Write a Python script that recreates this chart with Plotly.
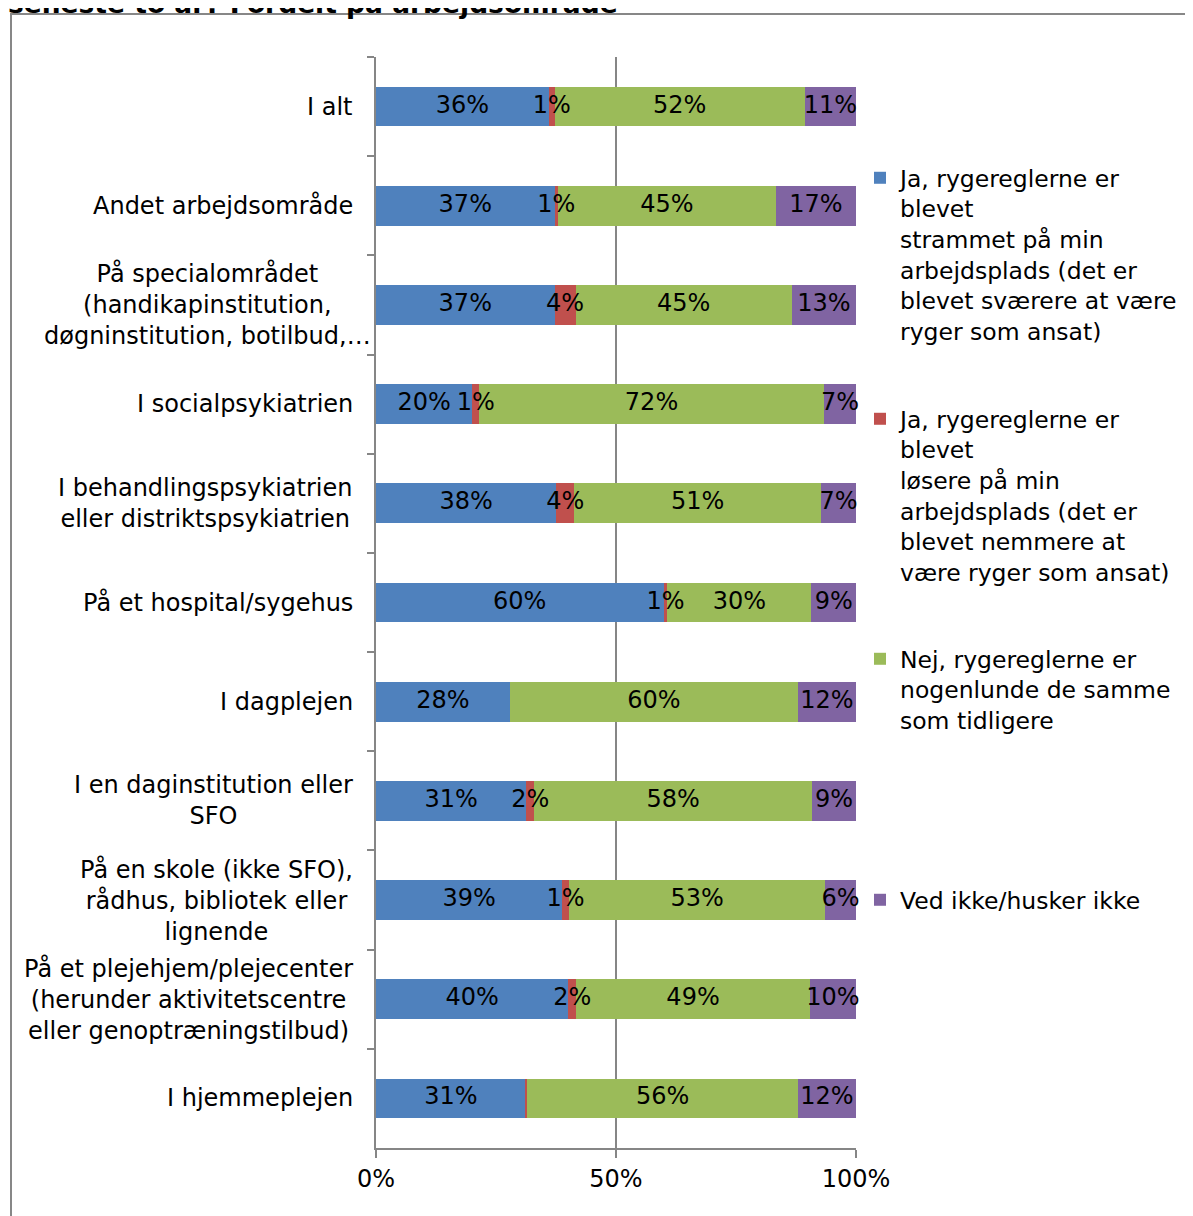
import plotly.graph_objects as go

# ---- data (top to bottom, values in %) ----
categories = [
    "I alt",
    "Andet arbejdsområde",
    "På specialområdet",
    "I socialpsykiatrien",
    "I behandlingspsykiatrien",
    "På et hospital/sygehus",
    "I dagplejen",
    "I en daginstitution",
    "På en skole",
    "På et plejehjem",
    "I hjemmeplejen",
]
category_labels = [
    "I alt",
    "Andet arbejdsområde",
    "På specialområdet<br>(handikapinstitution,<br>døgninstitution, botilbud,…",
    "I socialpsykiatrien",
    "I behandlingspsykiatrien<br>eller distriktspsykiatrien",
    "På et hospital/sygehus",
    "I dagplejen",
    "I en daginstitution eller<br>SFO",
    "På en skole (ikke SFO),<br>rådhus, bibliotek eller<br>lignende",
    "På et plejehjem/plejecenter<br>(herunder aktivitetscentre<br>eller genoptræningstilbud)",
    "I hjemmeplejen",
]
series_names = [
    "Ja, rygereglerne er<br>blevet<br>strammet på min<br>arbejdsplads (det er<br>blevet sværere at være<br>ryger som ansat)",
    "Ja, rygereglerne er<br>blevet<br>løsere på min<br>arbejdsplads (det er<br>blevet nemmere at<br>være ryger som ansat)",
    "Nej, rygereglerne er<br>nogenlunde de samme<br>som tidligere",
    "Ved ikke/husker ikke",
]
strammet = [36.0, 37.2, 37.2, 20.1, 37.6, 59.9, 27.9, 31.3, 38.8, 40.1, 31.2]
loesere = [1.2, 0.7, 4.4, 1.4, 3.7, 0.8, 0.0, 1.7, 1.4, 1.6, 0.3]
samme = [52.1, 45.4, 45.0, 71.8, 51.4, 30.0, 60.0, 57.8, 53.4, 48.7, 56.4]
ved_ikke = [10.7, 16.7, 13.4, 6.7, 7.3, 9.3, 12.1, 9.2, 6.4, 9.6, 12.1]
x_tick_vals = [0, 50, 100]
x_tick_text = ["0%", "50%", "100%"]
title_text = "seneste to år? Fordelt på arbejdsområde"

series = [strammet, loesere, samme, ved_ikke]
colors = ["#4F81BD", "#C0504D", "#9BBB59", "#8064A2"]
legend_ids = ["legend", "legend2", "legend3", "legend4"]

FONT = "DejaVu Sans"
OFF = 8                      # page body margin
W, H = 1193 - OFF, 1216 - OFF
L, R, T, B = 376, 856, 57, 1148  # plot area, page pixels


def px_x(p):
    return (p - L) / (R - L)


def px_y(p):
    return (B - p) / (B - T)


fig = go.Figure()
for vals, name, col, lg in zip(series, series_names, colors, legend_ids):
    fig.add_trace(go.Bar(
        y=categories, x=vals, orientation="h", name=name,
        marker=dict(color=col, line=dict(width=0)),
        textposition="none", legend=lg, hoverinfo="skip",
    ))

# data labels drawn on top of all bars, centred on each segment
lab_x, lab_y, lab_t = [], [], []
for i, cat in enumerate(categories):
    start = 0.0
    for vals in series:
        v = vals[i]
        if v >= 0.5:
            lab_x.append(start + v / 2)
            lab_y.append(cat)
            lab_t.append(f"{v:.0f}%")
        start += v
fig.add_trace(go.Scatter(
    x=lab_x, y=lab_y, text=lab_t, mode="text", textposition="middle center",
    textfont=dict(size=24, family=FONT, color="black"),
    showlegend=False, hoverinfo="skip", cliponaxis=False,
))

legend_tops = [156, 397, 637, 878]
layout_legends = {}
for lg, top in zip(legend_ids, legend_tops):
    layout_legends[lg] = dict(
        x=px_x(860), y=px_y(top), xanchor="left", yanchor="top",
        font=dict(size=23.5, family=FONT, color="black"),
        bgcolor="rgba(0,0,0,0)", borderwidth=0, valign="top",
    )

annotations = []
for cat, lab in zip(categories, category_labels):
    right = 373 if "botilbud" in lab else 355
    annotations.append(dict(
        x=px_x(right), xref="paper", y=cat, yref="y",
        text=lab, showarrow=False, xanchor="right", yanchor="middle",
        align="center", font=dict(size=24, family=FONT, color="black"),
    ))
annotations.append(dict(
    x=px_x(6), xref="paper", y=px_y(21), yref="paper",
    text=f"<b>{title_text}</b>", showarrow=False, xanchor="left", yanchor="bottom",
    font=dict(size=26.5, family=FONT, color="black"),
))

fig.update_layout(
    width=W, height=H,
    margin=dict(l=L - OFF, r=W - (R - OFF), t=T - OFF, b=H - (B - OFF),
                autoexpand=False),
    paper_bgcolor="white", plot_bgcolor="white",
    barmode="stack", bargap=0.6,
    showlegend=True,
    font=dict(family=FONT, size=24, color="black"),
    annotations=annotations,
    shapes=[dict(type="rect", xref="paper", yref="paper",
                 x0=px_x(11), x1=px_x(1240), y0=px_y(1270), y1=px_y(14),
                 line=dict(color="#878787", width=2), fillcolor="rgba(0,0,0,0)",
                 layer="below")],
    **layout_legends,
)
fig.update_xaxes(
    range=[0, 100], tickvals=x_tick_vals, ticktext=x_tick_text,
    showgrid=True, gridcolor="#868686", gridwidth=2,
    showline=True, linecolor="#868686", linewidth=2,
    ticks="outside", ticklen=8, tickwidth=2, tickcolor="#868686",
    zeroline=False, tickfont=dict(size=24, family=FONT, color="black"),
)
fig.update_yaxes(
    type="category", categoryorder="array", categoryarray=categories,
    range=[len(categories) - 0.5, -0.5], autorange=False,
    showline=True, linecolor="#868686", linewidth=2,
    ticks="outside", tickson="boundaries", ticklen=7, tickwidth=2,
    tickcolor="#868686", showticklabels=False, showgrid=False, zeroline=False,
)

fig.write_html("out.html")
